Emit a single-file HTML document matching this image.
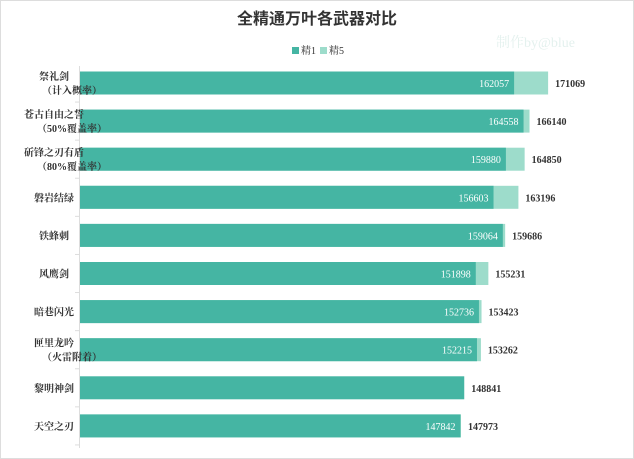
<!DOCTYPE html>
<html><head><meta charset="utf-8"><style>
body{margin:0;background:#fff;}
svg{display:block;font-family:"Liberation Serif","Noto Serif CJK SC",serif;}
</style></head><body>
<svg id="c" width="634" height="459">
<rect x="0.5" y="0.5" width="633" height="458" fill="#fff" stroke="#ddd"/>
<text x="317" y="24" text-anchor="middle" font-size="16" font-weight="bold" fill="#333" font-family="'Liberation Sans','Noto Sans CJK SC',sans-serif">全精通万叶各武器对比</text>
<g>
<g><rect x="292" y="47" width="7" height="7" fill="#45b5a3"/><text x="301" y="54" font-size="10" fill="#333">精1</text></g>
<g><rect x="320" y="47" width="7" height="7" fill="#9ddccb"/><text x="329" y="54" font-size="10" fill="#333">精5</text></g>
</g>
<text x="496" y="47" font-size="14" fill="#e4f1ee">制作by@blue</text>
<line x1="79.5" y1="66" x2="79.5" y2="448" stroke="#ddd"/>
<g id="bars"></g>
</svg>
<script>
const categories=[["祭礼剑","（计入概率）"],["苍古自由之誓","（50%覆盖率）"],["斫锋之刃有盾","（80%覆盖率）"],["磐岩结绿"],["铁蜂刺"],["风鹰剑"],["暗巷闪光"],["匣里龙吟","（火雷附着）"],["黎明神剑"],["天空之刃"]];
const r1Values=[162057,164558,159880,156603,159064,151898,152736,152215,null,147842];
const r5Values=[171069,166140,164850,163196,159686,155231,153423,153262,148841,147973];
const xMin=47000, x0=80, pxPer=0.003773;
const xs=v=>x0+(v-xMin)*pxPer;
const top0=83, step=38.1, bh=23;
const g=document.getElementById('bars');
const NS='http://www.w3.org/2000/svg';
function mk(t,a){const e=document.createElementNS(NS,t);for(const k in a)e.setAttribute(k,a[k]);return e;}
categories.forEach((c,i)=>{
  const cy=top0+i*step;
  const r5=r5Values[i], r1=r1Values[i];
  const lb=mk('rect',{x:x0,y:cy-bh/2,width:xs(r5)-x0,height:bh,fill:'#9ddccb'});
  
  
  g.appendChild(lb);
  if(r1!=null){
    const db=mk('rect',{x:x0,y:cy-bh/2,width:xs(r1)-x0,height:bh,fill:'#45b5a3'});
    
    
    g.appendChild(db);
    const t=mk('text',{x:xs(r1)-5,y:cy+4,'text-anchor':'end','font-size':10,fill:'#fff'});
    t.textContent=r1;
    
    
    g.appendChild(t);
  } else {
    lb.setAttribute('fill','#45b5a3');
  }
  const t2=mk('text',{x:xs(r5)+7,y:cy+4,'font-size':10,fill:'#333','font-weight':'bold'});
  t2.textContent=r5;
  
  
  g.appendChild(t2);
  const n=c.length;
  c.forEach((line,j)=>{
    const tl=mk('text',{x:line.startsWith('（')?72:54,y:cy+4+(j-(n-1)/2)*14,'text-anchor':'middle','font-size':10,fill:'#333','font-weight':'bold'});
    tl.textContent=line;
    
    
    g.appendChild(tl);
  });
  const tk=mk('line',{x1:75,x2:79,y1:cy+step/2,y2:cy+step/2,stroke:'#ddd'});
  
  
  g.appendChild(tk);
});
</script>
</body></html>
